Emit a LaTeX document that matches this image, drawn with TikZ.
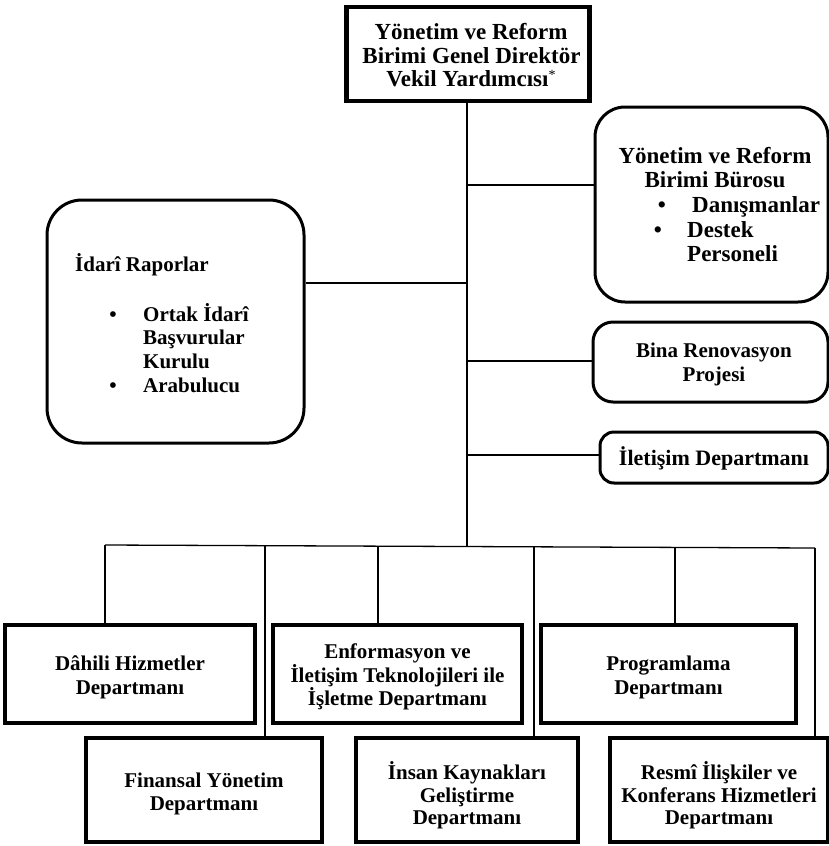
\documentclass[tikz,border=0pt]{standalone}
\usepackage{fontspec}
\setmainfont{Liberation Serif}
\begin{document}
\begin{tikzpicture}[x=1pt,y=-1pt,
  every node/.style={inner sep=0pt},
  big/.style={font=\bfseries\fontsize{23}{24}\selectfont, anchor=base},
  mid/.style={font=\bfseries\fontsize{22}{24}\selectfont, anchor=base},
  small/.style={font=\bfseries\fontsize{21}{23}\selectfont, anchor=base},
  lft/.style={anchor=base west},
  sqbox/.style={draw, line width=4.2pt},
  rndbox/.style={draw, line width=3pt, rounded corners=#1},
  rndbox/.default=30pt,
  link/.style={line width=1.3pt}]
\useasboundingbox (0,0) rectangle (829,846);

% head of the unit
\node[sqbox, minimum width=243pt, minimum height=94pt] (head) at (468,54) {};
\node[big] (head1) at (471,39) {Yönetim ve Reform};
\node[big] (head2) at (471.5,63) {Birimi Genel Direktör};
\node[big] (head3) at (471,86.5) {Vekil Yardımcısı{\mdseries\fontsize{14}{14}\selectfont\raisebox{0.5em}{*}}};

% office of the unit
\node[rndbox=30pt, minimum width=233pt, minimum height=195pt] (buro) at (711.5,204.5) {};
\node[big] (buro1) at (715,163) {Yönetim ve Reform};
\node[big] (buro2) at (715,187) {Birimi Bürosu};
\node[big] (burob1) at (662,212) {•};
\node[big, lft] (buro3) at (692,212) {Danışmanlar};
\node[big] (burob2) at (658,237) {•};
\node[big, lft] (buro4) at (687,237) {Destek};
\node[big, lft] (buro5) at (687,261) {Personeli};

% administrative reports
\node[rndbox=35pt, minimum width=257pt, minimum height=243pt] (idari) at (175.5,321.5) {};
\node[small, lft] (idari1) at (75,271) {İdarî Raporlar};
\node[small] (idarib1) at (113,321) {•};
\node[small, lft] (idari2) at (143,321) {Ortak İdarî};
\node[small, lft] (idari3) at (143,344.5) {Başvurular};
\node[small, lft] (idari4) at (143,368) {Kurulu};
\node[small] (idarib2) at (113,392) {•};
\node[small, lft] (idari5) at (143,392) {Arabulucu};

% building renovation
\node[rndbox=20pt, minimum width=235pt, minimum height=80pt] (bina) at (710.5,362) {};
\node[small] (bina1) at (714,357) {Bina Renovasyon};
\node[small] (bina2) at (714,381) {Projesi};

% communications
\node[rndbox=14pt, minimum width=228pt, minimum height=51pt] (ilet) at (714,457.5) {};
\node[mid] (ilet1) at (714,465) {İletişim Departmanı};

% departments, upper row
\node[sqbox, minimum width=250pt, minimum height=98pt] (dahili) at (130,674) {};
\node[small] (dahili1) at (130,670) {Dâhili Hizmetler};
\node[small] (dahili2) at (130,694) {Departmanı};
\node[sqbox, minimum width=249pt, minimum height=98pt] (enf) at (397.5,674) {};
\node[small] (enf1) at (397.5,658) {Enformasyon ve};
\node[small] (enf2) at (397.5,682) {İletişim Teknolojileri ile};
\node[small] (enf3) at (397.5,705) {İşletme Departmanı};
\node[sqbox, minimum width=255pt, minimum height=98pt] (prog) at (668.5,674) {};
\node[small] (prog1) at (668.5,670) {Programlama};
\node[small] (prog2) at (668.5,694) {Departmanı};

% departments, lower row
\node[sqbox, minimum width=236pt, minimum height=104pt] (fin) at (204,790) {};
\node[small] (fin1) at (204,787) {Finansal Yönetim};
\node[small] (fin2) at (204,810) {Departmanı};
\node[sqbox, minimum width=222pt, minimum height=104pt] (insan) at (467,790) {};
\node[small] (insan1) at (467,779) {İnsan Kaynakları};
\node[small] (insan2) at (467,802) {Geliştirme};
\node[small] (insan3) at (467,824) {Departmanı};
\node[sqbox, minimum width=218pt, minimum height=104pt] (resmi) at (719,790) {};
\node[small] (resmi1) at (719,779) {Resmî İlişkiler ve};
\node[small] (resmi2) at (719,802) {Konferans Hizmetleri};
\node[small] (resmi3) at (719,824) {Departmanı};

% trunk, side branches and bus
\coordinate (busl) at (105,545);
\coordinate (busr) at (815,548);
\coordinate (trunk) at (467,546.5);
\coordinate (jburo) at (467,185);
\coordinate (jidari) at (467,283);
\coordinate (jbina) at (467,361);
\coordinate (jilet) at (467,455);
\coordinate (dfin) at (265,545.9);
\coordinate (denf) at (378,546.2);
\coordinate (dinsan) at (534,546.8);
\coordinate (dprog) at (675,547.4);

\draw[link] (head.south -| trunk) -- (trunk);
\draw[link] (busl) -- (busr);
\draw[link] (jburo) -- (jburo -| buro.west);
\draw[link] (jidari) -- (jidari -| idari.east);
\draw[link] (jbina) -- (jbina -| bina.west);
\draw[link] (jilet) -- (jilet -| ilet.west);

% drops to the departments
\draw[link] (busl) -- (busl |- dahili.north);
\draw[link] (dfin) -- (dfin |- fin.north);
\draw[link] (denf) -- (denf |- enf.north);
\draw[link] (dinsan) -- (dinsan |- insan.north);
\draw[link] (dprog) -- (dprog |- prog.north);
\draw[link] (busr) -- (busr |- resmi.north);
\end{tikzpicture}
\end{document}
